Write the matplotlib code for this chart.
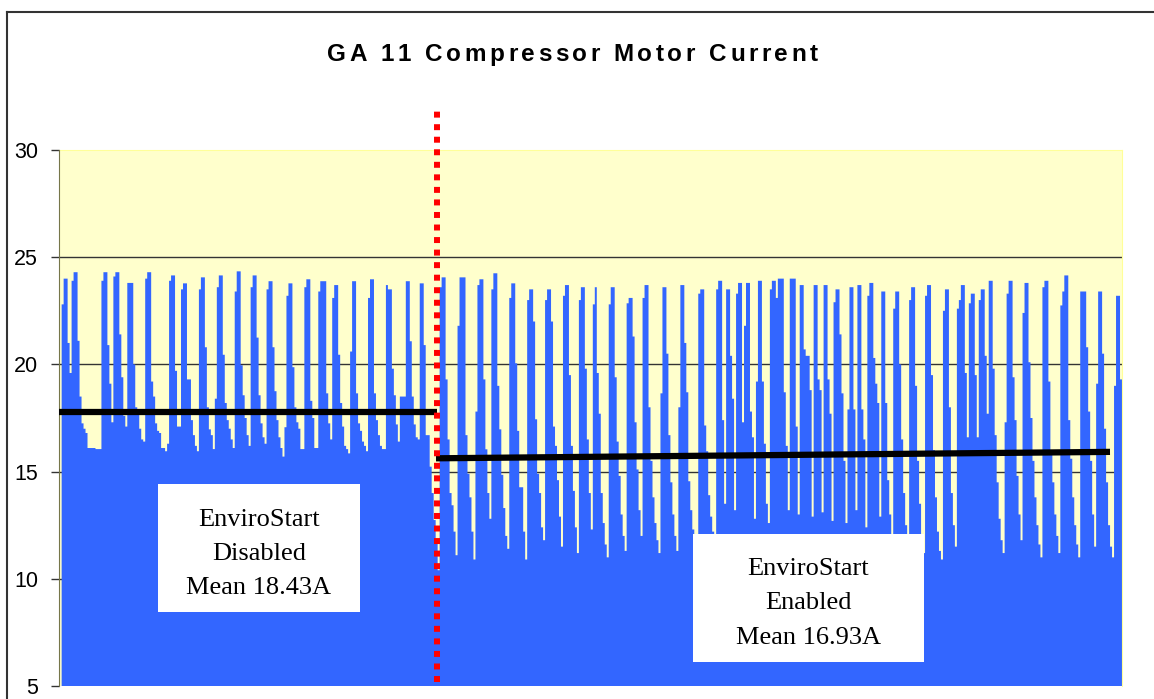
import numpy as np
import matplotlib
matplotlib.use('Agg')
import matplotlib.pyplot as plt
from matplotlib.lines import Line2D
from matplotlib.patches import Rectangle
from matplotlib.font_manager import FontProperties
import matplotlib.transforms as mtransforms

# corriente del motor (A) muestra a muestra, leida del grafico
# tramo con EnviroStart desactivado
corriente_off = [
    22.8, 24.0, 24.0, 21.0, 19.6, 23.9, 24.3, 24.3, 21.1, 18.5, 17.25, 17.0, 16.8,
    16.1, 16.1, 16.1, 16.1, 16.05, 16.05, 16.05,
    23.9, 24.3, 24.3, 20.9, 19.1, 17.3,
    24.1, 24.3, 24.3, 21.4, 19.4, 17.6, 17.1,
    23.8, 23.8, 23.8, 20.0, 18.0, 17.9, 17.0, 16.5, 16.4,
    24.0, 24.3, 24.3, 19.2, 18.5, 17.25, 16.9, 16.8, 16.1, 16.1, 15.95, 16.3,
    23.9, 24.15, 24.15, 19.7, 17.1, 17.1,
    23.5, 23.78, 23.78, 19.3, 19.3, 17.4, 16.7, 16.2, 15.95,
    23.5, 24.06, 24.06, 20.8, 18.0, 16.97, 16.7, 16.05, 18.4,
    23.6, 24.15, 24.15, 20.45, 18.2, 17.4, 17.0, 16.5, 16.1,
    23.4, 24.34, 24.34, 19.96, 18.56, 17.5, 16.7, 16.2,
    23.6, 24.15, 24.15, 21.25, 18.56, 17.25, 16.6, 16.3,
    23.5, 23.88, 23.88, 20.8, 18.75, 17.4, 16.6, 16.1, 15.7, 17.07,
    23.2, 23.78, 23.78, 19.87, 18.0, 17.3, 17.0, 16.05, 16.05,
    23.6, 23.97, 23.97, 18.3, 17.5, 16.1, 16.1,
    23.4, 23.88, 23.88, 23.88, 18.65, 17.25, 16.5,
    23.1, 23.7, 23.7, 20.45, 18.2, 17.1, 16.2, 16.05, 15.85,
    20.6, 23.88, 23.88, 18.65, 17.25, 16.9, 16.4, 16.2, 15.95,
    23.1, 23.97, 23.97, 18.65, 17.4, 16.7, 16.2, 16.05, 16.05,
    23.7, 23.5, 23.5, 19.8, 18.56, 17.2, 16.4, 18.5, 18.5, 18.5,
    23.88, 23.88, 21.08, 18.5, 17.2, 16.6, 16.5,
    23.78, 23.78, 20.9, 16.7, 16.7,
]

# tramo con EnviroStart activado
corriente_on = [
    15.23, 14.0, 12.74, 11.8, 10.4,
    23.6, 24.06, 24.06, 19.3, 16.5, 14.0, 13.43, 12.2, 11.1,
    21.8, 24.06, 24.06, 24.06, 16.7, 14.9, 13.8, 12.2, 10.9,
    17.8, 23.7, 23.97, 23.97, 19.3, 16.04, 14.0, 12.8,
    23.5, 24.25, 24.25, 19.0, 16.97, 14.85, 13.3, 12.0, 11.4,
    23.1, 23.78, 23.78, 20.05, 16.9, 14.27, 14.27, 12.2, 10.9,
    23.0, 23.5, 23.5, 22.0, 17.44, 14.9, 14.0, 12.4, 11.8,
    23.0, 23.5, 23.5, 22.0, 17.1, 16.2,
    14.6, 12.9, 11.5, 23.2, 23.7, 23.7, 19.5, 16.2, 14.1, 12.4, 11.2,
    23.0, 23.6, 23.6, 19.8, 16.5, 14.0, 12.3, 22.8,
    23.6, 19.6, 17.7, 14.0, 12.6, 11.6, 11.0,
    22.8, 23.6, 23.6, 19.4, 16.4, 14.8, 13.0, 12.0, 11.3,
    22.85, 23.1, 23.1, 21.3, 17.3, 15.1, 13.2, 12.0,
    23.1, 23.7, 23.7, 18.0, 15.5, 13.8, 12.6, 11.8, 11.2,
    18.65, 23.6, 23.6, 20.5, 16.7, 14.5, 13.0, 12.0, 11.3,
    18.0, 23.7, 23.7, 21.0, 18.7, 14.55, 13.2, 12.3, 11.7, 11.2,
    23.3, 23.5, 23.5, 17.15, 15.95, 13.9, 12.9, 12.2, 11.8,
    23.5, 23.9, 23.9, 17.4, 13.5,
    23.5, 23.5, 20.4, 18.4, 13.2,
    23.3, 23.8, 23.8, 17.3, 21.8,
    23.8, 23.8, 17.8, 16.6, 12.8,
    19.2, 23.9, 23.9, 19.2, 16.3, 13.5, 12.6,
    23.5, 23.9, 23.9, 23.1, 24.0, 24.0, 24.0, 18.7, 16.2, 13.2,
    24.0, 24.0, 24.0, 17.1, 13.0,
    23.7, 23.7, 20.7, 20.4, 20.4, 18.8, 12.9,
    23.7, 23.7, 19.3, 18.8, 13.1,
    23.7, 23.7, 19.3, 17.7, 12.7,
    22.9, 23.5, 23.5, 21.4, 18.65, 15.5, 12.6,
    17.9, 23.6, 23.6, 17.9, 13.2,
    23.7, 23.7, 17.9, 16.5, 12.4,
    23.2, 23.8, 23.8, 20.3, 19.1, 18.2, 12.9,
    23.4, 23.4, 18.2, 14.6, 13.0, 12.0,
    22.6, 23.4, 23.4, 20.0,
    16.5, 14.0, 12.5, 11.5,
    23.0, 23.6, 23.6, 19.0, 15.5, 13.5, 12.0, 11.2,
    23.2, 23.7, 23.7, 19.5, 16.0, 13.8, 12.2, 11.3, 10.9,
    22.5, 23.5, 23.5, 18.0, 14.0, 12.5, 11.5,
    22.6, 23.0, 23.7, 23.7, 19.6, 16.6,
    22.85, 23.3, 23.3, 19.5, 16.6,
    23.0, 23.5, 23.5, 20.4, 17.7,
    23.9, 23.9, 19.8, 16.7, 14.5, 12.8, 11.8, 11.2,
    17.3, 23.3, 23.9, 23.9, 19.4, 17.4, 14.8, 13.0, 11.8,
    22.4, 23.8, 23.8, 20.1, 17.5, 15.5, 13.8, 12.5, 11.6, 11.0,
    23.6, 23.9, 23.9, 19.2, 16.0, 14.5, 13.0, 12.0, 11.2,
    22.75, 23.4, 24.15, 24.15, 17.4, 15.6, 13.8, 12.5, 11.6, 11.0,
    23.4, 23.4, 23.4, 20.8, 17.8, 15.5, 13.0, 11.5,
    19.1, 23.4, 23.4, 20.5, 17.0, 14.5, 12.5, 11.5, 11.0,
    19.0, 23.2, 23.2, 19.3,
]

corriente = corriente_off + corriente_on
n = len(corriente)

y_ticks = [5, 10, 15, 20, 25, 30]
titulo = 'GA 11 Compressor Motor Current'
lineas_off = ['EnviroStart', 'Disabled', 'Mean 18.43A']
lineas_on = ['EnviroStart', 'Enabled', 'Mean 16.93A']
media_off = [17.78, 17.78]
media_on = [15.62, 15.92]

W, H = 1154, 699


def fx(px):
    return px / W


def fy(py):
    return 1 - py / H


fig = plt.figure(figsize=(W / 100, H / 100), dpi=100)
ax = fig.add_axes([fx(59), fy(686), (1122 - 59) / W, (686 - 150) / H])
ax.set_facecolor('#ffffcc')

ax.stairs(corriente, np.arange(n + 1), fill=True, baseline=0, color='#3366ff', zorder=2)

ax.set_xlim(-1.33, n)
ax.set_ylim(5, 30)
ax.set_yticks(y_ticks)
ax.set_xticks([])
for y in [10, 15, 20, 25]:
    ax.axhline(y, color='#333333', lw=1, zorder=1)

ax.tick_params(axis='y', length=6, width=1, color='#333333', labelsize=15.5, pad=9)
for lab in ax.get_yticklabels():
    lab.set_fontfamily('Liberation Sans')

ax.spines['left'].set_color('#76764a')
ax.spines['left'].set_zorder(3)
for s in ['top', 'right']:
    ax.spines[s].set_color('#ffff99')
ax.spines['bottom'].set_visible(False)

# x en fraccion de ejes, y en datos
tr = mtransforms.blended_transform_factory(ax.transAxes, ax.transData)


def axx(px):
    return (px - 59) / (1122 - 59)


# lineas de media
ax.plot([axx(59), axx(437)], media_off, color='black', lw=4.5,
        solid_capstyle='butt', transform=tr, zorder=4)
ax.plot([axx(436), axx(1110)], media_on, color='black', lw=4.5,
        solid_capstyle='butt', transform=tr, zorder=4)

# linea roja punteada
ax.plot([axx(437), axx(437)], [5.2, 31.9], color='#ff0000', lw=4.3, dashes=(1.0, 1.1),
        dash_capstyle='butt', clip_on=False, transform=tr, zorder=5)

# cuadros de texto (en pixeles de la figura)
for (x0, y0, x1, y1, cx, bases, lineas) in [
        (158, 484, 360, 612, 259, [526, 560, 594], lineas_off),
        (693, 534, 924, 662, 808, [575, 609, 644], lineas_on)]:
    fig.add_artist(Rectangle((fx(x0), fy(y1)), fx(x1) - fx(x0), fy(y0) - fy(y1),
                             facecolor='white', edgecolor='none', zorder=6))
    for b, t in zip(bases, lineas):
        fig.text(fx(cx), fy(b), t, ha='center', va='baseline', fontsize=19,
                 family='Liberation Serif', zorder=7)

# titulo con espaciado entre letras
r = fig.canvas.get_renderer()
fp = FontProperties(family='Liberation Sans', weight='bold', size=17.5)
anchos = []
for ch in titulo:
    if ch == ' ':
        w = r.get_text_width_height_descent('a a', fp, False)[0] - \
            r.get_text_width_height_descent('aa', fp, False)[0]
    else:
        w = r.get_text_width_height_descent(ch, fp, False)[0]
    anchos.append(w)
x0, x1 = 327, 818
extra = (x1 - x0 - sum(anchos)) / (len(titulo) - 1)
x = x0
for ch, w in zip(titulo, anchos):
    fig.text(fx(x), fy(61), ch, ha='left', va='baseline', fontproperties=fp)
    x += w + extra

# marco de la figura
fig.add_artist(Line2D([fx(7), fx(7)], [0, fy(12)], color='#333333', lw=1.5))
fig.add_artist(Line2D([fx(7), 1], [fy(12), fy(12)], color='#333333', lw=1.5))

fig.savefig('out.png', dpi=100)
